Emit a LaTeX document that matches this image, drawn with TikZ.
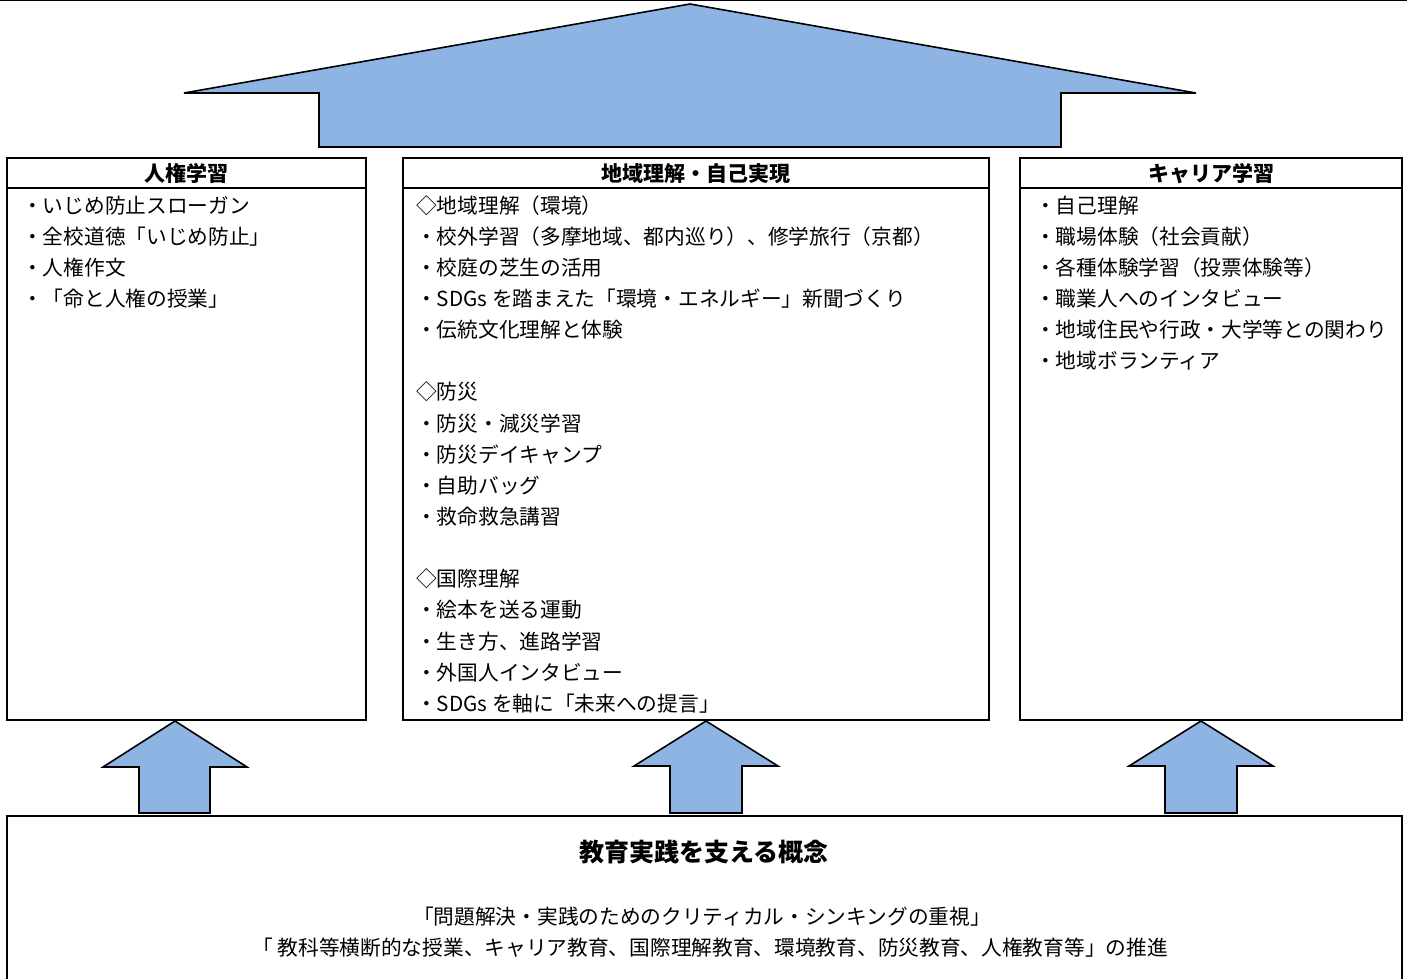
\documentclass[tikz,border=0pt]{standalone}
\usepackage{fontspec}
\setmainfont{Noto Sans CJK JP}
\definecolor{arrowblue}{HTML}{8EB4E3}
\tikzset{
  box/.style={draw=black, line width=1.6pt, anchor=north west, inner sep=0pt},
  bigarrow/.style={draw=black, line width=1.6pt, fill=arrowblue, line join=miter},
  item/.style={anchor=base west, inner sep=0pt, font=\fontsize{20.7}{24}\selectfont},
  head/.style={anchor=base, inner sep=0pt, font=\fontsize{21}{24}\selectfont\bfseries},
  title/.style={anchor=base, inner sep=0pt, font=\fontsize{25}{28}\selectfont\bfseries},
  line/.style={anchor=base, inner sep=0pt, font=\fontsize{20.7}{24}\selectfont},
}
\begin{document}
\begin{tikzpicture}[x=1pt,y=-1pt]
\useasboundingbox (0,0) rectangle (1407,978);
\draw[line width=1.2pt] (0,0.6) -- (1407,0.6);
% top arrow
\draw[bigarrow] (690,4) -- (1196,93) -- (1061,93) -- (1061,147) -- (319,147) -- (319,93) -- (184,93) -- cycle;
% boxes
\node[box, minimum width=359pt, minimum height=562pt] (B1) at (6,157) {};
\node[box, minimum width=586pt, minimum height=562pt] (B2) at (402,157) {};
\node[box, minimum width=382pt, minimum height=562pt] (B3) at (1019,157) {};
\draw[line width=1.6pt] (6,188) -- (365,188);
\draw[line width=1.6pt] (402,188) -- (988,188);
\draw[line width=1.6pt] (1019,188) -- (1401,188);
\node[head] (H1) at (186,181) {人権学習};
\node[head] (H2) at (696,181) {地域理解・自己実現};
\node[head] (H3) at (1211,181) {キャリア学習};
% left items
\foreach \t [count=\i] in {・いじめ防止スローガン,・全校道徳「いじめ防止」,・人権作文,・「命と人権の授業」}
  \node[item] (L\i) at (22,{213+31.15*(\i-1)}) {\t};
% middle items
\foreach \t [count=\i] in {◇地域理解（環境）,・校外学習（多摩地域、都内巡り）、修学旅行（京都）,・校庭の芝生の活用,・SDGs を踏まえた「環境・エネルギー」新聞づくり,・伝統文化理解と体験}
  \node[item] (MA\i) at (416,{213+31.15*(\i-1)}) {\t};
\foreach \t [count=\i] in {◇防災,・防災・減災学習,・防災デイキャンプ,・自助バッグ,・救命救急講習}
  \node[item] (MB\i) at (416,{213+31.15*(\i+5)}) {\t};
\foreach \t [count=\i] in {◇国際理解,・絵本を送る運動,・生き方、進路学習,・外国人インタビュー,・SDGs を軸に「未来への提言」}
  \node[item] (MC\i) at (416,{213+31.15*(\i+11)}) {\t};
% right items
\foreach \t [count=\i] in {・自己理解,・職場体験（社会貢献）,・各種体験学習（投票体験等）,・職業人へのインタビュー,・地域住民や行政・大学等との関わり,・地域ボランティア}
  \node[item] (R\i) at (1035,{213+31.15*(\i-1)}) {\t};
% small arrows
\draw[bigarrow] (175,721) -- (247,767) -- (210,767) -- (210,813) -- (139,813) -- (139,767) -- (103,767) -- cycle;
\draw[bigarrow] (706,721) -- (778,766) -- (742,766) -- (742,813) -- (670,813) -- (670,766) -- (634,766) -- cycle;
\draw[bigarrow] (1201,721) -- (1273,766) -- (1237,766) -- (1237,813) -- (1165,813) -- (1165,766) -- (1129,766) -- cycle;
% bottom box
\node[box, minimum width=1395pt, minimum height=175pt] (B4) at (6,815) {};
\node[title] (T) at (704,861) {教育実践を支える概念};
\node[line] (T1) at (702,924) {「問題解決・実践のためのクリティカル・シンキングの重視」};
\node[line] (T2) at (710,955) {「\hspace{5pt}教科等横断的な授業、キャリア教育、国際理解教育、環境教育、防災教育、人権教育等」の推進};
\end{tikzpicture}
\end{document}
